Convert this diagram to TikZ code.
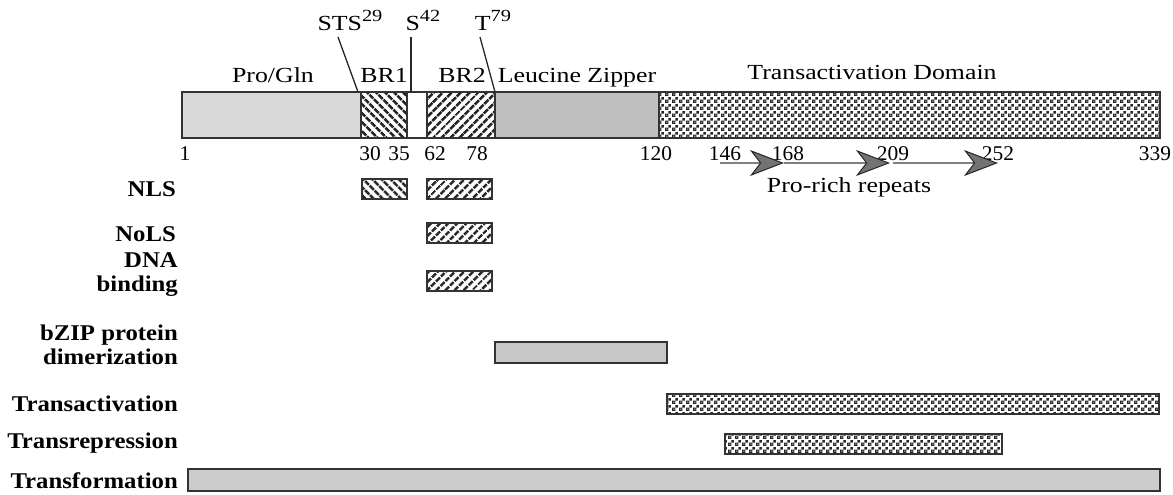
\documentclass[tikz,border=0pt]{standalone}
\usepackage{fontspec}
\setmainfont{Liberation Serif}
\usetikzlibrary{patterns,patterns.meta,arrows.meta}
\tikzdeclarepattern{
  name=tadots,
  type=uncolored,
  bounding box={(0,0) and (7pt,7pt)},
  tile size={(7pt,7pt)},
  code={
    \draw[line width=1.1pt] (0.8pt,0.8pt) rectangle (3.2pt,3.2pt);
    \fill (3.9pt,3.7pt) rectangle (6.8pt,6.6pt);
    \fill (1.6pt,1.6pt) rectangle (2.4pt,2.4pt);
  }
}
\newcommand\wx[1]{\scalebox{1.2}[1]{#1}}
\newcommand\nx[1]{\scalebox{1.02}[1]{#1}}
\newcommand\bx[1]{\scalebox{1.1}[1]{#1}}
\newcommand\sups[1]{\raisebox{0.42em}{\fontsize{17}{17}\selectfont #1}}
\begin{document}
\begin{tikzpicture}[x=1pt,y=-1pt,
  seg/.style={draw=black!80, line width=1.6pt, inner sep=0pt, outer sep=0pt, anchor=north west},
  hatchA/.style={pattern={Lines[angle=-45,distance=6.5pt,line width=2.9pt]}, pattern color=black!85},
  hatchB/.style={pattern={Lines[angle=45,distance=6.5pt,line width=2.9pt]}, pattern color=black!85},
  dotted fill/.style={pattern=tadots, pattern color=black!85},
  txt/.style={font=\fontsize{21.5}{24}\selectfont, inner sep=0pt, anchor=base},
  num/.style={font=\fontsize{21}{24}\selectfont, inner sep=0pt, anchor=base},
  lab/.style={font=\fontsize{22.5}{24}\selectfont\bfseries, inner sep=0pt, anchor=east, align=right},
  pin line/.style={draw=black!85, line width=1.3pt},
  rep/.style={draw=black!50, line width=2.8pt, -{Stealth[length=34pt,width=26pt,inset=10pt,fill=black!55,color=black!85,line width=1pt]}}
]
\useasboundingbox (0,0) rectangle (1173,495);

% main bar
\node[seg, fill=black!15, minimum width=179, minimum height=46] (pro) at (182,92) {};
\node[seg, fill=white, minimum width=46, minimum height=46] (br1bg) at (361,92) {};
\node[seg, hatchA, minimum width=46, minimum height=46] (br1) at (361,92) {};
\node[seg, fill=white, minimum width=20, minimum height=46] (gap) at (407,92) {};
\node[seg, fill=white, minimum width=68, minimum height=46] (br2bg) at (427,92) {};
\node[seg, hatchB, minimum width=68, minimum height=46] (br2) at (427,92) {};
\node[seg, fill=black!25, minimum width=164, minimum height=46] (lz) at (495,92) {};
\node[seg, fill=white, minimum width=501, minimum height=46] (tabg) at (659,92) {};
\node[seg, dotted fill, minimum width=501, minimum height=46] (ta) at (659,92) {};

% domain labels
\node[txt] (lpro) at (273,83) {\wx{Pro/Gln}};
\node[txt] (lbr1) at (384,83) {\wx{BR1}};
\node[txt] (lbr2) at (462,83) {\wx{BR2}};
\node[txt] (llz) at (577,83) {\wx{Leucine Zipper}};
\node[txt] (lta) at (872,80) {\wx{Transactivation Domain}};

% phosphosites
\node[txt] (sts) at (350,31) {\wx{STS\sups{29}}};
\node[txt] (s42) at (423,31) {\wx{S\sups{42}}};
\node[txt] (t79) at (493,31) {\wx{T\sups{79}}};
\coordinate (stsA) at (338,37);
\coordinate (stsB) at (358,92);
\coordinate (s42A) at (411,37);
\coordinate (s42B) at (411,92);
\coordinate (t79A) at (480,37);
\coordinate (t79B) at (495,92);
\draw[pin line] (stsA) -- (stsB);
\draw[pin line] (s42A) -- (s42B);
\draw[pin line] (t79A) -- (t79B);

% residue numbers
\node[num] (n1) at (185,160) {\nx{1}};
\node[num] (n30) at (370,160) {\nx{30}};
\node[num] (n35) at (399,160) {\nx{35}};
\node[num] (n62) at (435,160) {\nx{62}};
\node[num] (n78) at (477,160) {\nx{78}};
\node[num] (n120) at (656,160) {\nx{120}};
\node[num] (n146) at (725,160) {\nx{146}};
\node[num] (n168) at (788,160) {\nx{168}};
\node[num] (n209) at (893,160) {\nx{209}};
\node[num] (n252) at (998,160) {\nx{252}};
\node[num] (n339) at (1155,160) {\nx{339}};

% pro-rich repeats
\coordinate (r146) at (720,163);
\coordinate (r168) at (784,163);
\coordinate (r209) at (890,163);
\coordinate (r209b) at (893,163);
\coordinate (r252) at (998,163);
\draw[rep] (r146) -- (r168);
\draw[rep] (r168) -- (r209);
\draw[rep] (r209b) -- (r252);
\node[txt] (lrep) at (849,192) {\wx{Pro-rich repeats}};

% function rows
\node[lab] (fNLS) at (176,189) {\bx{NLS}};
\node[seg, fill=white, minimum width=45, minimum height=20] (nlsa0) at (362,179) {};
\node[seg, hatchA, minimum width=45, minimum height=20] (nlsa) at (362,179) {};
\node[seg, fill=white, minimum width=65, minimum height=20] (nlsb0) at (427,179) {};
\node[seg, hatchB, minimum width=65, minimum height=20] (nlsb) at (427,179) {};

\node[lab] (fNoLS) at (176,234) {\bx{NoLS}};
\node[seg, fill=white, minimum width=65, minimum height=20] (nols0) at (427,223) {};
\node[seg, hatchB, minimum width=65, minimum height=20] (nols) at (427,223) {};

\node[lab] (fDNA) at (178,275) {\bx{DNA}\\\bx{binding}};
\node[seg, fill=white, minimum width=65, minimum height=20] (dna0) at (427,271) {};
\node[seg, hatchB, minimum width=65, minimum height=20] (dna) at (427,271) {};

\node[lab] (fbZIP) at (178,345) {\bx{bZIP protein}\\\bx{dimerization}};
\node[seg, fill=black!22, minimum width=172, minimum height=21] (bzip) at (495,342) {};

\node[lab] (fTA) at (178,404) {\bx{Transactivation}};
\node[seg, fill=white, minimum width=492, minimum height=20] (tarow0) at (667,394) {};
\node[seg, dotted fill, minimum width=492, minimum height=20] (tarow) at (667,394) {};

\node[lab] (fTR) at (178,443) {\bx{Transrepression}};
\node[seg, fill=white, minimum width=277, minimum height=20] (trrow0) at (725,434) {};
\node[seg, dotted fill, minimum width=277, minimum height=20] (trrow) at (725,434) {};

\node[lab] (fTF) at (178,481) {\bx{Transformation}};
\node[seg, fill=black!20, minimum width=972, minimum height=22] (tfrow) at (188,469) {};
\end{tikzpicture}
\end{document}
